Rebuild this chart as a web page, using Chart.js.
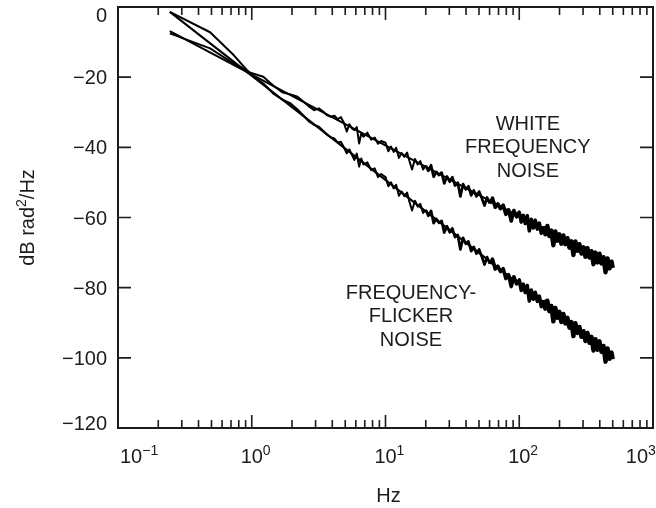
<!DOCTYPE html>
<html>
<head>
<meta charset="utf-8">
<script src="https://cdn.jsdelivr.net/npm/chart.js@4.4.1/dist/chart.umd.min.js"></script>
<style>
  html, body { margin: 0; padding: 0; background: #fff; }
</style>
</head>
<body>
<canvas id="noiseChart" width="656" height="508"></canvas>
<script>
// FFT bins of the measured spectra (Hz)
const freqHz = [
  0.244, 0.488, 0.732, 0.977, 1.22, 1.46, 1.71, 1.95, 2.20, 2.44, 2.69, 2.93,
  3.17, 3.42, 3.66, 3.91, 4.15, 4.39, 4.64, 4.88, 5.13, 5.37, 5.62, 5.86, 6.10,
  6.35, 6.59, 6.84, 7.32, 7.81, 8.30, 8.79, 9.28,
  10, 10.5, 11, 11.5, 12, 12.6, 13.2, 13.8, 14.5, 15.1, 15.8, 16.6, 17.4, 18.2,
  19.1, 20, 20.9, 21.9, 22.9, 24, 25.1, 26.3, 27.5, 28.8, 30.2, 31.6, 33.1, 34.7,
  36.3, 38, 39.8, 41.7, 43.7, 45.7, 47.9, 50.1, 52.5, 55, 57.5, 60.3, 63.1, 66.1,
  69.2, 72.4, 75.9, 79.4, 83.2, 87.1, 91.2, 95.5,
  100, 103.5, 107.2, 110.9, 114.8, 118.9, 123.0, 127.4, 131.8, 136.5, 141.3,
  146.2, 151.4, 156.7, 162.2, 167.9, 173.8, 179.9, 186.2, 192.8, 199.5, 206.5,
  213.8, 221.3, 229.1, 237.1, 245.5, 254.1, 263.0, 272.3, 281.8, 291.7, 302.0,
  312.6, 323.6, 335.0, 346.7, 358.9, 371.5, 384.6, 398.1, 412.1, 426.6, 441.6,
  457.1, 473.2, 489.8, 500
];

const whiteNoiseDb = [
  -7.5, -11.8, -16.1, -18.7, -19.9, -22.5, -24.4, -24.9, -25.6, -27.0, -28.4, -29.4,
  -28.9, -29.8, -30.9, -31.3, -31.0, -32.0, -31.4, -33.0, -35.5, -33.4, -34.6, -35.1, -34.2,
  -38.9, -36.0, -37.0, -35.8, -37.8, -37.2, -39.0, -38.2,
  -38.7, -41.1, -39.8, -41.3, -40.1, -43.0, -41.6, -42.7, -41.5, -43.9, -46.3, -43.3, -44.9, -43.9,
  -46.3, -45.2, -46.7, -45.1, -48.4, -47.0, -47.9, -47.2, -50.3, -48.3, -49.8, -48.5, -50.9, -50.1,
  -54.0, -50.5, -52.0, -51.1, -53.7, -52.3, -54.0, -52.6, -54.5, -56.6, -54.3, -56.0, -54.5, -57.1,
  -56.1, -57.5, -56.5, -59.1, -57.8, -61.0, -58.0, -59.8,
  -58.5, -61.3, -59.4, -61.7, -59.5, -63.8, -60.5, -63.0, -60.8, -63.3, -61.6,
  -64.5, -62.5, -64.8, -62.4, -65.3, -63.7, -67.9, -64.0, -66.6, -64.8, -67.5,
  -65.1, -67.6, -65.9, -68.6, -66.8, -70.7, -66.8, -69.5, -67.6, -70.3, -68.5,
  -71.2, -68.7, -71.4, -69.6, -73.3, -70.0, -72.8, -70.3, -73.1, -71.3, -75.6,
  -71.7, -74.5, -72.6, -74.4
];

const flickerNoiseDb = [
  -1.4, -7.2, -13.7, -19.1, -21.8, -24.8, -26.5, -27.5, -29.2, -31.0, -32.7, -33.6,
  -34.1, -35.3, -36.4, -37.2, -37.5, -38.6, -38.4, -40.0, -41.7, -40.6, -42.2, -43.6, -41.8,
  -45.5, -43.2, -44.9, -44.3, -46.5, -46.0, -48.5, -47.6,
  -48.5, -51.1, -50.0, -51.7, -50.7, -53.8, -52.6, -53.9, -52.9, -55.5, -58.0, -55.2, -56.9, -56.1,
  -58.7, -57.8, -59.5, -58.1, -61.6, -60.4, -61.5, -61.0, -64.3, -62.5, -64.2, -63.1, -65.6, -65.0,
  -69.1, -65.8, -67.5, -66.8, -69.6, -68.4, -70.3, -69.1, -71.2, -73.4, -71.3, -73.2, -71.9, -74.7,
  -73.9, -75.4, -74.6, -77.4, -76.3, -79.7, -76.9, -78.9,
  -77.8, -80.8, -79.0, -81.4, -79.4, -83.8, -80.7, -83.3, -81.3, -83.9, -82.4,
  -85.4, -83.5, -86.0, -83.7, -86.7, -85.2, -89.6, -85.8, -88.6, -86.9, -89.8,
  -87.5, -90.2, -88.6, -91.4, -89.8, -93.8, -90.1, -92.9, -91.2, -94.0, -92.4,
  -95.2, -92.9, -95.7, -94.0, -97.9, -94.7, -97.7, -95.3, -98.3, -96.6, -101.1,
  -97.3, -100.3, -98.5, -100.4
];

// straight theoretical slopes
const fitFreqHz = [0.244, 500];
const whiteFitDb = [-6.9, -73.8];
const flickerFitDb = [-1.4, -99.8];

const yTicks = [0, -20, -40, -60, -80, -100, -120];
const xDecades = [0.1, 1, 10, 100, 1000];
const xExponents = ["\u22121", "0", "1", "2", "3"];
const xMinorMult = [2, 3, 4, 5, 6, 7, 8, 9];

const whiteNote = ["WHITE", "FREQUENCY", "NOISE"];
const flickerNote = ["FREQUENCY-", "FLICKER", "NOISE"];
const whiteNoteAt = { f: 116, db: -33 };
const flickerNoteAt = { f: 15.5, db: -81.2 };

const FONT = '"Liberation Sans", Arial, Helvetica, sans-serif';
const INK = "#1c1c1c";

const toPoints = (xs, ys) => xs.map((f, i) => ({ x: f, y: ys[i] }));

const lineStyle = {
  borderColor: "#000",
  borderWidth: 2,
  pointRadius: 0,
  tension: 0,
  fill: false,
  borderJoinStyle: "round",
};

// the measured traces get denser (visually thicker) towards high frequency
const measuredSegment = {
  borderWidth: (c) => {
    const f = c.p0.parsed.x;
    if (f >= 150) return 4.4;
    if (f >= 60) return 3.6;
    if (f >= 20) return 2.7;
    return 2;
  },
};

const framePlugin = {
  id: "frame",
  afterDraw(chart) {
    const { ctx, chartArea: { left, right, top, bottom }, scales: { x, y } } = chart;
    ctx.save();
    ctx.strokeStyle = INK;
    ctx.lineWidth = 2;
    ctx.strokeRect(left, top, right - left, bottom - top);

    // inward ticks on all four sides
    ctx.lineWidth = 1.6;
    ctx.beginPath();
    xDecades.forEach((d, i) => {
      const px = x.getPixelForValue(d);
      ctx.moveTo(px, bottom); ctx.lineTo(px, bottom - 13);
      ctx.moveTo(px, top); ctx.lineTo(px, top + 13);
      if (i < xDecades.length - 1) {
        xMinorMult.forEach((m) => {
          const mx = x.getPixelForValue(d * m);
          ctx.moveTo(mx, bottom); ctx.lineTo(mx, bottom - 8);
          ctx.moveTo(mx, top); ctx.lineTo(mx, top + 8);
        });
      }
    });
    yTicks.forEach((v) => {
      const py = y.getPixelForValue(v);
      ctx.moveTo(left, py); ctx.lineTo(left + 13, py);
      ctx.moveTo(right, py); ctx.lineTo(right - 13, py);
    });
    ctx.stroke();

    ctx.fillStyle = INK;
    ctx.textBaseline = "alphabetic";

    // y tick labels
    ctx.font = "20px " + FONT;
    ctx.textAlign = "right";
    yTicks.forEach((v) => {
      let py = y.getPixelForValue(v);
      py = Math.min(Math.max(py, top + 8), bottom - 5);
      const txt = v < 0 ? "\u2212" + Math.abs(v) : String(v);
      ctx.fillText(txt, left - 11, py + 7);
    });

    // x tick labels: 10 with raised exponent
    ctx.textAlign = "left";
    xDecades.forEach((d, i) => {
      const px = x.getPixelForValue(d);
      ctx.font = "20px " + FONT;
      const wBase = ctx.measureText("10").width;
      let bx = px - wBase / 2;
      bx = Math.max(bx, left + 2);
      bx = Math.min(bx, chart.width - wBase - 8);
      ctx.fillText("10", bx, bottom + 35);
      ctx.font = "14px " + FONT;
      ctx.fillText(xExponents[i], bx + wBase, bottom + 27);
    });

    // axis titles
    ctx.font = "20px " + FONT;
    ctx.textAlign = "center";
    ctx.fillText("Hz", (left + right) / 2 + 3, bottom + 74);

    ctx.save();
    ctx.translate(34, (top + bottom) / 2);
    ctx.rotate(-Math.PI / 2);
    ctx.textAlign = "left";
    const partA = "dB rad", partB = "2", partC = "/Hz";
    ctx.font = "20px " + FONT;
    const wA = ctx.measureText(partA).width, wC = ctx.measureText(partC).width;
    ctx.font = "14px " + FONT;
    const wB = ctx.measureText(partB).width;
    let tx = -(wA + wB + wC) / 2;
    ctx.font = "20px " + FONT;
    ctx.fillText(partA, tx, 0);
    ctx.font = "14px " + FONT;
    ctx.fillText(partB, tx + wA, -8);
    ctx.font = "20px " + FONT;
    ctx.fillText(partC, tx + wA + wB, 0);
    ctx.restore();

    // curve annotations
    ctx.textAlign = "center";
    const note = (lines, at) => {
      const cx = x.getPixelForValue(at.f);
      const cy = y.getPixelForValue(at.db);
      lines.forEach((t, i) => ctx.fillText(t, cx, cy + 7 + i * 23.4));
    };
    note(whiteNote, whiteNoteAt);
    note(flickerNote, flickerNoteAt);
    ctx.restore();
  },
};

new Chart(document.getElementById("noiseChart"), {
  type: "line",
  data: {
    datasets: [
      { label: "White fit", data: toPoints(fitFreqHz, whiteFitDb), ...lineStyle },
      { label: "Flicker fit", data: toPoints(fitFreqHz, flickerFitDb), ...lineStyle },
      { label: "White frequency noise", data: toPoints(freqHz, whiteNoiseDb), ...lineStyle, segment: measuredSegment },
      { label: "Frequency-flicker noise", data: toPoints(freqHz, flickerNoiseDb), ...lineStyle, segment: measuredSegment },
    ],
  },
  options: {
    responsive: false,
    devicePixelRatio: 1,
    animation: false,
    layout: { padding: { left: 0, right: 3, top: 7, bottom: 0 } },
    plugins: { legend: { display: false }, tooltip: { enabled: false } },
    scales: {
      x: {
        type: "logarithmic",
        min: 0.1,
        max: 1000,
        ticks: { display: false },
        grid: { display: false },
        border: { display: false },
        afterFit: (s) => { s.height = 80; },
      },
      y: {
        min: -120,
        max: 0,
        ticks: { display: false },
        grid: { display: false },
        border: { display: false },
        afterFit: (s) => { s.width = 118; },
      },
    },
  },
  plugins: [framePlugin],
});
</script>
</body>
</html>
